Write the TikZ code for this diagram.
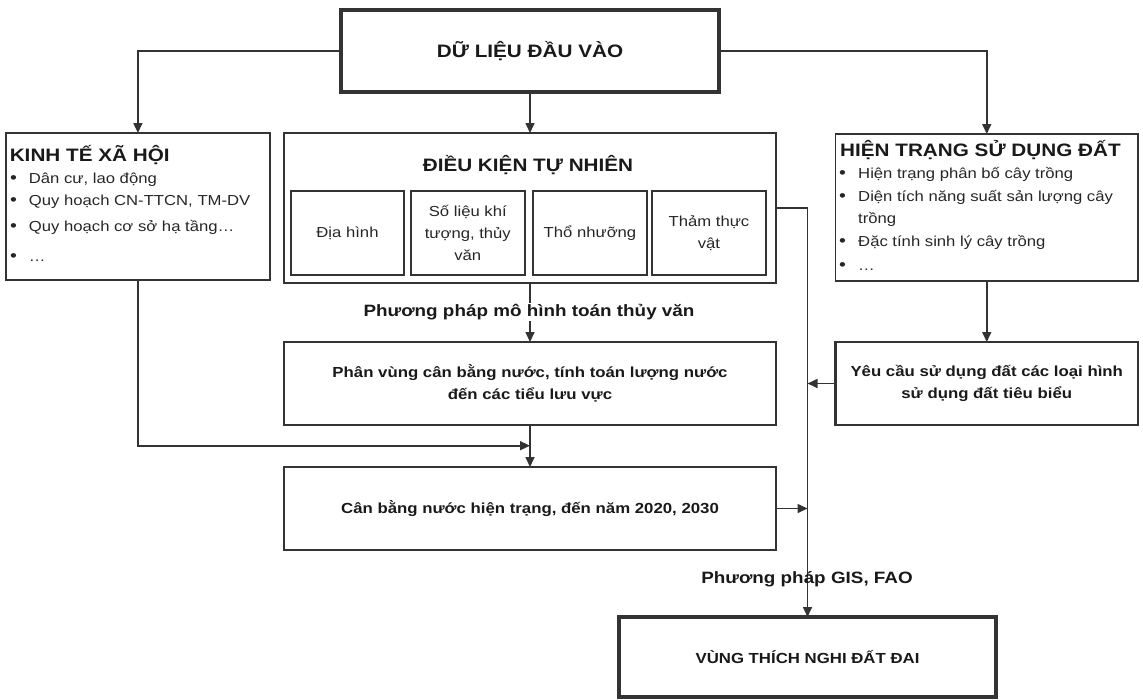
\documentclass[tikz,border=0pt]{standalone}
\usepackage{fontspec}
\setmainfont{Liberation Sans}[FakeStretch=1.15]
\usetikzlibrary{arrows.meta}
\newcommand{\bul}{{\fontsize{17}{20}\selectfont\textbullet}}
\begin{document}
\begin{tikzpicture}[x=1pt,y=-1pt,
  box/.style={draw=black!80, line width=1.8pt, rectangle, inner sep=0pt, outer sep=0pt},
  midbox/.style={box, line width=2.4pt},
  heavybox/.style={box, line width=3.6pt},
  subbox/.style={box, line width=1.9pt, align=center, font=\fontsize{14.5}{22}\selectfont, text=black!85},
  titlef/.style={font=\bfseries\fontsize{18}{22}\selectfont, text=black!90},
  labf/.style={font=\bfseries\fontsize{14.6}{22.5}\selectfont, align=center, text=black!90},
  methf/.style={font=\bfseries\fontsize{16.4}{20}\selectfont, text=black!90, inner sep=1pt},
  itemf/.style={font=\fontsize{14.5}{20}\selectfont, text=black!85, anchor=west, inner sep=0pt, text height=10pt, text depth=3pt},
  arr/.style={draw=black!80, line width=1.6pt, -{Triangle[length=10pt,width=9pt]}}
]
\useasboundingbox (0,0) rectangle (1143,699);

% boxes
\node[heavybox, minimum width=378pt, minimum height=82pt, titlef] (top) at (530,51) {DỮ LIỆU ĐẦU VÀO};
\node[box, minimum width=264pt, minimum height=147pt] (kt) at (137.9,206.5) {};
\node[box, minimum width=492pt, minimum height=150pt] (dk) at (530,208) {};
\node[box, minimum width=302.5pt, minimum height=147pt] (ht) at (986.75,207.5) {};

% KT contents
\node[titlef, anchor=west, inner sep=0pt] (ktt) at (9.6,155.5) {KINH TẾ XÃ HỘI};
\node[itemf] (kt1) at (10,180) {\makebox[18.7pt][l]{\bul}Dân cư, lao động};
\node[itemf] (kt2) at (10,202) {\makebox[18.7pt][l]{\bul}Quy hoạch CN-TTCN, TM-DV};
\node[itemf] (kt3) at (10,228) {\makebox[18.7pt][l]{\bul}Quy hoạch cơ sở hạ tầng…};
\node[itemf] (kt4) at (10,258) {\makebox[18.7pt][l]{\bul}…};

% DK contents
\node[titlef, inner sep=0pt] (dkt) at (528,165) {ĐIỀU KIỆN TỰ NHIÊN};
\node[subbox, minimum width=113pt, minimum height=84pt] (s1) at (347.5,233) {Địa hình};
\node[subbox, minimum width=114.4pt, minimum height=84pt] (s2) at (467.8,233) {Số liệu khí\\tượng, thủy\\văn};
\node[subbox, minimum width=114pt, minimum height=84pt] (s3) at (590,233) {Thổ nhưỡng};
\node[subbox, minimum width=114pt, minimum height=84pt] (s4) at (709,233) {Thảm thực\\vật};

% HT contents
\node[titlef, anchor=west, inner sep=0pt] (htt) at (840,150) {HIỆN TRẠNG SỬ DỤNG ĐẤT};
\node[itemf] (ht1) at (839,175) {\makebox[19pt][l]{\bul}Hiện trạng phân bố cây trồng};
\node[itemf] (ht2) at (839,198) {\makebox[19pt][l]{\bul}Diện tích năng suất sản lượng cây};
\node[itemf] (ht3) at (858,220) {trồng};
\node[itemf] (ht4) at (839,243) {\makebox[19pt][l]{\bul}Đặc tính sinh lý cây trồng};
\node[itemf] (ht5) at (839,266.7) {\makebox[19pt][l]{\bul}…};

% lower boxes
\node[midbox, minimum width=492pt, minimum height=83pt, labf] (pv) at (530,383.5) {Phân vùng cân bằng nước, tính toán lượng nước\\đến các tiểu lưu vực};
\node[midbox, minimum width=492pt, minimum height=83pt, labf] (cb) at (530,508.5) {Cân bằng nước hiện trạng, đến năm 2020, 2030};
\node[midbox, minimum width=302.5pt, minimum height=83pt, labf] (yc) at (986.75,383.5) {Yêu cầu sử dụng đất các loại hình\\sử dụng đất tiêu biểu};
\node[heavybox, minimum width=377pt, minimum height=80pt, labf] (vtn) at (807.5,657) {VÙNG THÍCH NGHI ĐẤT ĐAI};

\coordinate (join) at (530,445.7);

% connectors
\draw[arr] (top.west) -| (kt.north);
\draw[arr] (top.east) -| (ht.north);
\draw[arr] (top.south) -- (dk.north);
\draw[arr] (dk.south) -- (pv.north);
\draw[arr] (pv.south) -- (cb.north);
\draw[arr] (kt.south) |- (join);
\draw[arr] (dk.east) -| (vtn.north);
\draw[arr] (cb.east) -- (cb.east -| vtn.north);
\draw[arr] (ht.south) -- (yc.north);
\draw[arr] (yc.west) -- (yc.west -| vtn.north);

% method labels
\node[methf, fill=white] (m1) at (529,311.7) {Phương pháp mô hình toán thủy văn};
\node[methf] (m2) at (807,579.3) {Phương pháp GIS, FAO};
\end{tikzpicture}
\end{document}
